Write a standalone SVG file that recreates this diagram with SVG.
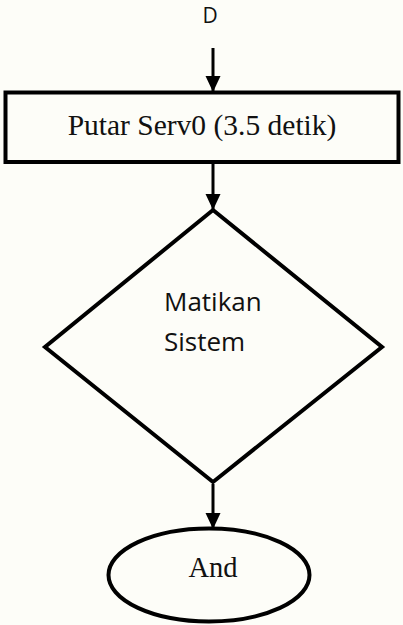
<svg xmlns="http://www.w3.org/2000/svg" width="403" height="625" viewBox="0 0 403 625">
<style>
.shape{fill:none;stroke:#000;stroke-width:4}
.conn{stroke:#000;stroke-width:3;fill:none}
.serif{font-family:"Liberation Serif","Times New Roman",serif;fill:#111}
.sans{font-family:"Open Sans","Noto Sans",sans-serif;fill:#111}
</style>
<defs>
<marker id="ah" markerWidth="16" markerHeight="16" refX="16" refY="8" orient="auto" markerUnits="userSpaceOnUse" viewBox="0 0 16 16">
<path d="M0,0.5 L16,8 L0,15.5 Z" fill="#000"/>
</marker>
</defs>
<rect width="403" height="625" fill="#fdfdf8"/>
<g id="label-D">
<text class="sans" x="210" y="23" font-size="21" text-anchor="middle">D</text>
</g>
<g id="process">
<rect class="shape" x="5.5" y="92.5" width="393" height="69.5"/>
<text class="serif" x="202" y="135" font-size="29.5" text-anchor="middle">Putar Serv0 (3.5 detik)</text>
</g>
<g id="decision">
<polygon class="shape" points="213,210 382,347 213,482 45,347"/>
<text class="sans" x="164" y="311" font-size="26">Matikan</text>
<text class="sans" x="164" y="351" font-size="26">Sistem</text>
</g>
<g id="terminator">
<ellipse class="shape" cx="209" cy="575" rx="100.5" ry="46.5"/>
<text class="serif" x="213" y="577" font-size="28.5" text-anchor="middle">And</text>
</g>
<g id="connectors">
<line class="conn" x1="213" y1="48" x2="213" y2="92" marker-end="url(#ah)"/>
<line class="conn" x1="213" y1="164" x2="213" y2="210" marker-end="url(#ah)"/>
<line class="conn" x1="213" y1="484" x2="213" y2="529" marker-end="url(#ah)"/>
</g>
</svg>
